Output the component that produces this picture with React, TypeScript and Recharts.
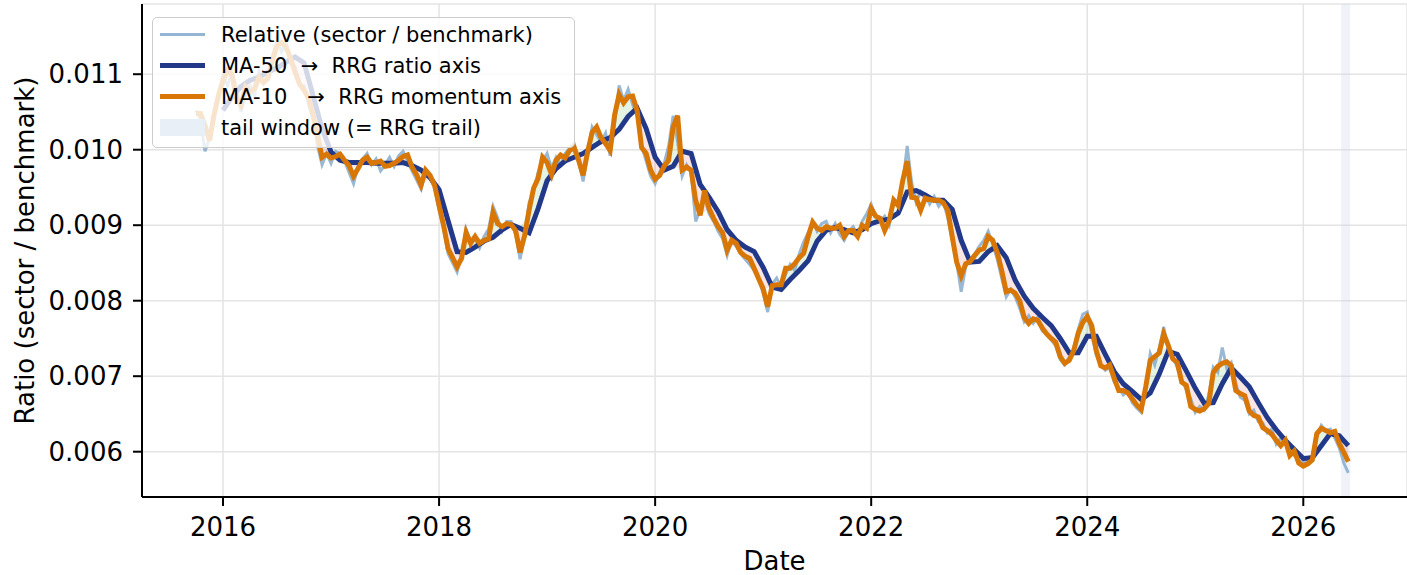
import React from 'react';
import {
  ComposedChart,
  Line,
  Area,
  XAxis,
  YAxis,
  CartesianGrid,
  ReferenceArea,
  Label,
} from 'recharts';

// Decimal year of the first sample (Oct 2015)
const SERIES_START = 2015.75;

// Relative ratio (sector / benchmark), half-monthly samples
const relative = [
  0.01052, 0.01040, 0.00998, 0.01015, 0.01050, 0.01070, 0.01098, 0.01085, 0.01105, 0.01080,
  0.01050, 0.01072, 0.01085, 0.01070, 0.01105, 0.01090, 0.01092, 0.01125, 0.01145, 0.01130,
  0.01142, 0.01115, 0.01110, 0.01085, 0.01085, 0.01060, 0.01040, 0.01005, 0.00980, 0.00995,
  0.00982, 0.00998, 0.00995, 0.00985, 0.00970, 0.00955, 0.00978, 0.00988, 0.00995, 0.00980,
  0.00988, 0.00972, 0.00980, 0.00990, 0.00978, 0.00992, 0.00998, 0.00985, 0.00972, 0.00960,
  0.00948, 0.00970, 0.00962, 0.00950, 0.00920, 0.00895, 0.00862, 0.00850, 0.00838, 0.00860,
  0.00895, 0.00878, 0.00882, 0.00870, 0.00885, 0.00895, 0.00925, 0.00910, 0.00892, 0.00905,
  0.00905, 0.00888, 0.00855, 0.00885, 0.00930, 0.00945, 0.00970, 0.00985, 0.00995, 0.00975,
  0.00990, 0.00980, 0.00995, 0.01002, 0.01008, 0.00985, 0.00958, 0.00995, 0.01030, 0.01020,
  0.01010, 0.01022, 0.00992, 0.01035, 0.01085, 0.01065, 0.01080, 0.01060, 0.01045, 0.01005,
  0.00985, 0.00965, 0.00955, 0.00970, 0.00982, 0.01005, 0.01045, 0.01010, 0.00965, 0.00980,
  0.00970, 0.00905, 0.00920, 0.00935, 0.00915, 0.00905, 0.00892, 0.00882, 0.00860, 0.00880,
  0.00872, 0.00862, 0.00855, 0.00848, 0.00840, 0.00828, 0.00810, 0.00785, 0.00822, 0.00830,
  0.00818, 0.00835, 0.00848, 0.00840, 0.00862, 0.00878, 0.00890, 0.00905, 0.00892, 0.00902,
  0.00905, 0.00890, 0.00902, 0.00888, 0.00880, 0.00892, 0.00898, 0.00888, 0.00905, 0.00915,
  0.00928, 0.00912, 0.00905, 0.00912, 0.00900, 0.00935, 0.00930, 0.00955, 0.01005, 0.00955,
  0.00930, 0.00945, 0.00940, 0.00928, 0.00938, 0.00925, 0.00932, 0.00910, 0.00880, 0.00850,
  0.00812, 0.00845, 0.00855, 0.00862, 0.00872, 0.00880, 0.00892, 0.00875, 0.00855, 0.00830,
  0.00805, 0.00815, 0.00805, 0.00790, 0.00772, 0.00780, 0.00770, 0.00778, 0.00760, 0.00755,
  0.00748, 0.00740, 0.00722, 0.00715, 0.00725, 0.00735, 0.00762, 0.00782, 0.00785, 0.00755,
  0.00728, 0.00715, 0.00708, 0.00712, 0.00692, 0.00685, 0.00675, 0.00680, 0.00665, 0.00658,
  0.00652, 0.00685, 0.00730, 0.00715, 0.00738, 0.00765, 0.00735, 0.00725, 0.00712, 0.00695,
  0.00682, 0.00670, 0.00652, 0.00660, 0.00655, 0.00675, 0.00712, 0.00705, 0.00738, 0.00710,
  0.00718, 0.00690, 0.00672, 0.00668, 0.00650, 0.00655, 0.00640, 0.00638, 0.00625, 0.00630,
  0.00610, 0.00618, 0.00612, 0.00600, 0.00595, 0.00588, 0.00585, 0.00592, 0.00595, 0.00620,
  0.00635, 0.00628, 0.00630, 0.00618, 0.00605, 0.00585, 0.00572,
];

// MA-10 (momentum axis), half-monthly samples
const ma10 = [
  0.01048, 0.01048, 0.01032, 0.01012, 0.01046, 0.01072, 0.01092, 0.01105, 0.01099, 0.01068,
  0.01059, 0.01083, 0.01076, 0.01081, 0.01096, 0.01089, 0.01095, 0.01119, 0.01138, 0.01142,
  0.01136, 0.01121, 0.01103, 0.01087, 0.01079, 0.01068, 0.01046, 0.01019, 0.00990, 0.00994,
  0.00989, 0.00991, 0.00994, 0.00986, 0.00979, 0.00965, 0.00975, 0.00986, 0.00990, 0.00982,
  0.00983, 0.00985, 0.00978, 0.00979, 0.00982, 0.00986, 0.00991, 0.00993, 0.00977, 0.00967,
  0.00953, 0.00973, 0.00966, 0.00953, 0.00926, 0.00900, 0.00869, 0.00857, 0.00845, 0.00856,
  0.00890, 0.00876, 0.00885, 0.00876, 0.00880, 0.00882, 0.00917, 0.00902, 0.00898, 0.00902,
  0.00901, 0.00893, 0.00864, 0.00886, 0.00920, 0.00949, 0.00962, 0.00990, 0.00983, 0.00967,
  0.00986, 0.00993, 0.00989, 0.00999, 0.01003, 0.00986, 0.00966, 0.00997, 0.01023, 0.01030,
  0.01016, 0.01008, 0.00999, 0.01046, 0.01073, 0.01062, 0.01070, 0.01071, 0.01052, 0.01003,
  0.00995, 0.00973, 0.00961, 0.00966, 0.00978, 0.00986, 0.01030, 0.01045, 0.00973, 0.00977,
  0.00973, 0.00933, 0.00913, 0.00946, 0.00922, 0.00909, 0.00898, 0.00890, 0.00867, 0.00880,
  0.00876, 0.00864, 0.00859, 0.00856, 0.00843, 0.00829, 0.00816, 0.00792, 0.00820, 0.00821,
  0.00821, 0.00843, 0.00843, 0.00849, 0.00857, 0.00863, 0.00885, 0.00904, 0.00896, 0.00893,
  0.00898, 0.00896, 0.00896, 0.00900, 0.00885, 0.00893, 0.00893, 0.00885, 0.00900, 0.00896,
  0.00922, 0.00912, 0.00909, 0.00893, 0.00906, 0.00933, 0.00926, 0.00959, 0.00985, 0.00937,
  0.00936, 0.00920, 0.00936, 0.00934, 0.00933, 0.00933, 0.00930, 0.00920, 0.00885, 0.00851,
  0.00833, 0.00849, 0.00852, 0.00860, 0.00867, 0.00869, 0.00885, 0.00880, 0.00864, 0.00840,
  0.00812, 0.00814, 0.00810, 0.00800, 0.00778, 0.00770, 0.00776, 0.00774, 0.00764, 0.00756,
  0.00750, 0.00745, 0.00726, 0.00717, 0.00721, 0.00734, 0.00757, 0.00771, 0.00779, 0.00767,
  0.00734, 0.00714, 0.00711, 0.00715, 0.00697, 0.00681, 0.00681, 0.00678, 0.00670, 0.00662,
  0.00656, 0.00686, 0.00721, 0.00726, 0.00731, 0.00756, 0.00741, 0.00723, 0.00718, 0.00692,
  0.00688, 0.00660, 0.00656, 0.00654, 0.00657, 0.00664, 0.00705, 0.00713, 0.00717, 0.00719,
  0.00714, 0.00681, 0.00677, 0.00674, 0.00654, 0.00648, 0.00646, 0.00632, 0.00628, 0.00623,
  0.00615, 0.00608, 0.00615, 0.00595, 0.00601, 0.00585, 0.00581, 0.00584, 0.00589, 0.00624,
  0.00631, 0.00628, 0.00625, 0.00627, 0.00611, 0.00599, 0.00587,
];

// MA-50 (ratio axis), monthly samples (undefined during warm-up)
const ma50: (number | null)[] = [
  null, null, null, 0.01052, 0.01070, 0.01084, 0.01092, 0.01096, 0.01103, 0.01108,
  0.01116, 0.01123, 0.01115, 0.01072, 0.01028, 0.00997, 0.00986, 0.00983, 0.00983, 0.00983,
  0.00982, 0.00982, 0.00982, 0.00983, 0.00979, 0.00973, 0.00963, 0.00947, 0.00906, 0.00865,
  0.00864, 0.00871, 0.00879, 0.00884, 0.00894, 0.00901, 0.00896, 0.00890, 0.00922, 0.00959,
  0.00975, 0.00985, 0.00990, 0.00995, 0.01003, 0.01011, 0.01016, 0.01027, 0.01044, 0.01055,
  0.01028, 0.00990, 0.00973, 0.00978, 0.00998, 0.00995, 0.00954, 0.00937, 0.00918, 0.00894,
  0.00880, 0.00871, 0.00865, 0.00844, 0.00818, 0.00815, 0.00828, 0.00840, 0.00853, 0.00879,
  0.00893, 0.00897, 0.00894, 0.00890, 0.00894, 0.00902, 0.00906, 0.00908, 0.00916, 0.00944,
  0.00946, 0.00940, 0.00933, 0.00933, 0.00921, 0.00880, 0.00851, 0.00852, 0.00865, 0.00873,
  0.00857, 0.00827, 0.00806, 0.00790, 0.00778, 0.00767, 0.00750, 0.00731, 0.00731, 0.00753,
  0.00753, 0.00729, 0.00706, 0.00690, 0.00680, 0.00669, 0.00678, 0.00703, 0.00733, 0.00729,
  0.00707, 0.00684, 0.00664, 0.00665, 0.00690, 0.00711, 0.00699, 0.00686, 0.00665, 0.00645,
  0.00629, 0.00615, 0.00603, 0.00591, 0.00592, 0.00608, 0.00624, 0.00621, 0.00608,
];

const xTicks = [2016, 2018, 2020, 2022, 2024, 2026];
const yTicks = [0.006, 0.007, 0.008, 0.009, 0.01, 0.011];
const xDomain = [2015.25, 2026.96];
const yDomain = [0.0054, 0.01193];
const tailWindow = [2026.35, 2026.435];

const COLORS = {
  relative: '#7ea6c8',
  ma50: '#22398a',
  ma10: '#d97706',
  tail: '#c6d5ea',
  up: '#2ca02c',
  down: '#d62728',
};

const legendItems = [
  { label: 'Relative (sector / benchmark)', color: '#93b4d2', width: 3 },
  { label: 'MA-50  \u2192  RRG ratio axis', color: COLORS.ma50, width: 5 },
  { label: 'MA-10   \u2192  RRG momentum axis', color: COLORS.ma10, width: 5 },
  { label: 'tail window (= RRG trail)', color: '#e9eff7', width: 17 },
];

const relData = relative.map((v, i) => ({ t: SERIES_START + i / 24, v }));
const ma10Data = ma10.map((v, i) => ({ t: SERIES_START + i / 24, v }));
// monthly rows: MA-50 and the band between it and MA-10 (same dates)
const maData = ma50.map((m, k) => {
  const s = ma10[2 * k];
  return {
    t: SERIES_START + k / 12,
    ma50: m,
    up: m == null ? null : [m, Math.max(s, m)],
    down: m == null ? null : [Math.min(s, m), m],
  };
});

const FONT = 'DejaVu Sans';

const LegendBox = () => (
  <div
    style={{
      position: 'absolute',
      left: 152,
      top: 17,
      boxSizing: 'border-box',
      width: 423,
      height: 131,
      paddingTop: 1,
      background: 'rgba(255,255,255,0.8)',
      border: '1.5px solid #cccccc',
      borderRadius: 5,
      fontFamily: FONT,
      fontSize: 21,
      color: '#000',
    }}
  >
    {legendItems.map((it) => (
      <div key={it.label} style={{ display: 'flex', alignItems: 'center', height: 31 }}>
        <div style={{ marginLeft: 7, width: 45, height: 31, display: 'flex', alignItems: 'center' }}>
          <div style={{ width: 45, height: it.width, background: it.color }} />
        </div>
        <span style={{ marginLeft: 16, whiteSpace: 'pre', lineHeight: '24px' }}>{it.label}</span>
      </div>
    ))}
  </div>
);

export default function App() {
  return (
    <div style={{ position: 'absolute', left: 0, top: 0, width: 1407, height: 575, background: '#fff' }}>
      <ComposedChart
        width={1407}
        height={575}
        data={maData}
        margin={{ top: 4, right: 0, bottom: 0, left: 0 }}
      >
        <CartesianGrid stroke="#e4e4e4" strokeWidth={1.5} />
        <XAxis
          dataKey="t"
          type="number"
          domain={xDomain}
          ticks={xTicks}
          allowDataOverflow
          height={78}
          tickSize={9}
          tickMargin={12}
          axisLine={{ stroke: '#000', strokeWidth: 2 }}
          tickLine={{ stroke: '#000', strokeWidth: 2 }}
          tick={{ fill: '#000', fontSize: 26, fontFamily: FONT }}
        >
          <Label
            value="Date"
            position="insideBottom"
            offset={5}
            style={{ fill: '#000', fontSize: 26, fontFamily: FONT }}
          />
        </XAxis>
        <YAxis
          type="number"
          domain={yDomain}
          ticks={yTicks}
          allowDataOverflow
          width={142}
          tickSize={9}
          tickMargin={10}
          tickFormatter={(v: number) => v.toFixed(3)}
          axisLine={{ stroke: '#000', strokeWidth: 2 }}
          tickLine={{ stroke: '#000', strokeWidth: 2 }}
          tick={{ fill: '#000', fontSize: 26, fontFamily: FONT }}
        >
          <Label
            content={() => (
              <text
                x={34}
                y={250.5}
                transform="rotate(-90, 34, 250.5)"
                textAnchor="middle"
                fontSize={26}
                fontFamily={FONT}
                fill="#000"
              >
                Ratio (sector / benchmark)
              </text>
            )}
          />
        </YAxis>
        <ReferenceArea
          x1={tailWindow[0]}
          x2={tailWindow[1]}
          fill={COLORS.tail}
          fillOpacity={0.28}
          stroke="none"
          ifOverflow="visible"
        />
        <Line
          data={relData}
          dataKey="v"
          type="linear"
          stroke={COLORS.relative}
          strokeOpacity={0.8}
          strokeWidth={3}
          dot={false}
          activeDot={false}
          isAnimationActive={false}
          legendType="none"
        />
        <Area
          dataKey="up"
          type="linear"
          stroke="none"
          fill={COLORS.up}
          fillOpacity={0.12}
          isAnimationActive={false}
          activeDot={false}
          legendType="none"
        />
        <Area
          dataKey="down"
          type="linear"
          stroke="none"
          fill={COLORS.down}
          fillOpacity={0.12}
          isAnimationActive={false}
          activeDot={false}
          legendType="none"
        />
        <Line
          dataKey="ma50"
          type="linear"
          stroke={COLORS.ma50}
          strokeWidth={5}
          dot={false}
          activeDot={false}
          isAnimationActive={false}
        />
        <Line
          data={ma10Data}
          dataKey="v"
          type="linear"
          stroke={COLORS.ma10}
          strokeWidth={5}
          dot={false}
          activeDot={false}
          isAnimationActive={false}
        />
      </ComposedChart>
      <LegendBox />
    </div>
  );
}
